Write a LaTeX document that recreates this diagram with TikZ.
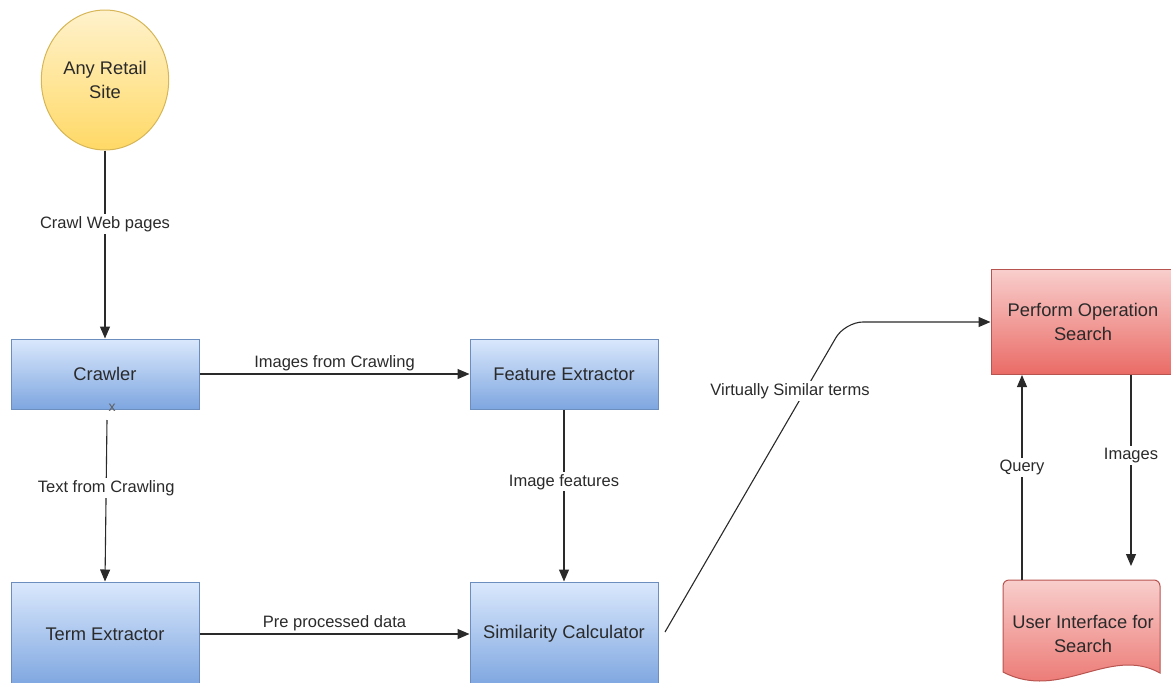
\documentclass[tikz,border=0pt]{standalone}
\usepackage{fontspec}
\setmainfont{Liberation Sans}
\usetikzlibrary{shapes.geometric,arrows.meta}
\definecolor{bluetop}{HTML}{DAE8FC}
\definecolor{bluebot}{HTML}{7EA6E0}
\definecolor{blueline}{HTML}{6C8EBF}
\definecolor{redtop}{HTML}{F8CECC}
\definecolor{redbot}{HTML}{EA6B66}
\definecolor{redline}{HTML}{B85450}
\definecolor{yeltop}{HTML}{FFF2CC}
\definecolor{yelbot}{HTML}{FFD966}
\definecolor{yelline}{HTML}{D6B656}
\definecolor{ink}{HTML}{2A2A2A}
\tikzset{
  nodefont/.style={font=\fontsize{18.3}{24}\selectfont, text=ink},
  bluebox/.style={rectangle, draw=blueline, line width=1pt, top color=bluetop, bottom color=bluebot,
    minimum width=188pt, minimum height=70pt, nodefont},
  redbox/.style={rectangle, draw=redline, line width=1pt, top color=redtop, bottom color=redbot,
    minimum width=184pt, minimum height=105pt, align=center, nodefont},
  site/.style={ellipse, draw=yelline, line width=1pt, top color=yeltop, bottom color=yelbot,
    minimum width=126pt, minimum height=140pt, align=center, nodefont},
  flow/.style={draw=ink, line width=1.1pt, -{Triangle[length=12pt,width=10pt]}},
  edgelabel/.style={fill=white, inner sep=2pt, font=\fontsize{16.5}{19}\selectfont, text=ink},
}
\begin{document}
\begin{tikzpicture}[x=1pt,y=-1pt]
\useasboundingbox (0,0) rectangle (1171,683);

% components
\node[site] (site) at (105,80) {Any Retail\\Site};
\node[bluebox] (crawler) at (105,374) {Crawler};
\node[bluebox] (feature) at (564,374) {Feature Extractor};
\node[bluebox, minimum height=104pt] (term) at (105,634) {Term Extractor};
\node[bluebox, minimum height=104pt] (simil) at (564,634) {Similarity Calculator};
\node[redbox] (perform) at (1083,322) {Perform Operation\\Search};

% user interface (document shape with wavy bottom)
\path[draw=redline, line width=1pt, top color=redtop, bottom color=redbot, rounded corners=6pt]
  (1003,672) -- (1003,580) -- (1160,580) [sharp corners] -- (1160,673)
  .. controls (1110,645) and (1060,702) .. (1003,672) -- cycle;
\node[align=center, nodefont] (ui) at (1083,634) {User Interface for\\Search};
\coordinate (uitop) at (1022,580);

% connectors
\draw[flow] (site.south) -- node[edgelabel, pos=0.39] {Crawl Web pages} (crawler.north);
\draw[flow] (crawler.east) -- node[edgelabel, above, fill=none, yshift=1pt] {Images from Crawling} (feature.west);
\node[font=\fontsize{14}{16}\selectfont, text=ink!75, inner sep=0pt] (xmark) at (112,408) {x};
\coordinate (textstart) at (107,420);
\draw[flow] (textstart) -- node[edgelabel, pos=0.42] {Text from Crawling} (term.north);
\draw[flow] (feature.south) -- node[edgelabel, pos=0.42] {Image features} (simil.north);
\draw[flow] (term.east) -- node[edgelabel, above, fill=none, yshift=1pt] {Pre processed data} (simil.west);
\coordinate (simstart) at (665,632);
\coordinate (bend) at (845,322);
\draw[flow, rounded corners=18pt] (simstart) -- (bend) -- (perform.west);
\node[edgelabel] (vslabel) at (790,391) {Virtually Similar terms};
\draw[flow] (uitop) -- node[edgelabel, pos=0.55] {Query} (uitop |- perform.south);
\coordinate (imgend) at (1131,566);
\draw[flow] (imgend |- perform.south) -- node[edgelabel, pos=0.42] {Images} (imgend);
\end{tikzpicture}
\end{document}
